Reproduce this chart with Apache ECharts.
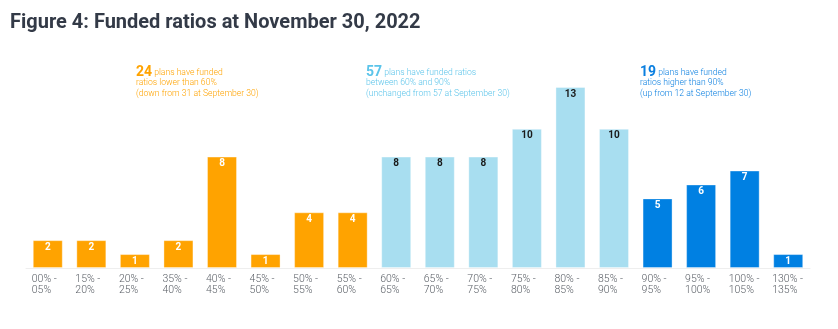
<!DOCTYPE html>
<html><head><meta charset="utf-8">
<script src="https://cdn.jsdelivr.net/npm/echarts@6/dist/echarts.min.js"></script>
<style>html,body{margin:0;padding:0;background:#fff}#c{width:838px;height:329px}</style>
</head><body><div id="c"></div>
<script>
const categories = ['00% -\n05%','15% -\n20%','20% -\n25%','35% -\n40%','40% -\n45%','45% -\n50%','50% -\n55%','55% -\n60%','60% -\n65%','65% -\n70%','70% -\n75%','75% -\n80%','80% -\n85%','85% -\n90%','90% -\n95%','95% -\n100%','100% -\n105%','130% -\n135%'];
const values = [2,2,1,2,8,1,4,4,8,8,8,10,13,10,5,6,7,1];
const groups = ['low','low','low','low','low','low','low','low','mid','mid','mid','mid','mid','mid','high','high','high','high'];
const colors = {low:'#FFA300', mid:'#A8DEF0', high:'#0080E2'};
const labelColors = {low:'#ffffff', mid:'#1a1a1a', high:'#ffffff'};
const textColors = {low:'#FFA300', mid:'#5BC4EA', high:'#0A7FE0'};

const chart = echarts.init(document.getElementById('c'));
function note(x, color, num, lines){
  return {
    left: x, top: 67, padding: 0,
    text: '{n|' + num + '}{t| ' + lines[0] + '}\n{t|' + lines[1] + '}\n{t|' + lines[2] + '}',
    textStyle: {
      fontSize: 8.6, lineHeight: 10.5, color: color, fontFamily: 'Roboto',
      rich: {
        n: {fontSize: 14, fontWeight: 'bold', color: color, fontFamily: 'Roboto', lineHeight: 11},
        t: {fontSize: 8.6, color: color, fontFamily: 'Roboto', fontWeight: 300, lineHeight: 10.5}
      }
    }
  };
}
chart.setOption({
  animation: false,
  title: [
    {left: 10, top: 13, padding: 0, text: 'Figure 4: Funded ratios at November 30, 2022',
     textStyle: {fontSize: 20, fontWeight: 'bold', color: '#333a47', fontFamily: 'Roboto'}},
    note(136, textColors.low, '24', ['plans have funded','ratios lower than 60%','(down from 31 at September 30)']),
    note(366, textColors.mid, '57', ['plans have funded ratios','between 60% and 90%','(unchanged from 57 at September 30)']),
    note(640, textColors.high, '19', ['plans have funded','ratios higher than 90%','(up from 12 at September 30)'])
  ],
  grid: {left: 26, right: 28, top: 87, bottom: 61},
  xAxis: {
    type: 'category', data: categories,
    axisLine: {lineStyle: {color: '#eeeeee'}},
    axisTick: {show: false},
    axisLabel: {
      interval: 0, margin: 6,
      formatter: v => v.split('\n').map(s => '{a|' + s + '}').join('\n'),
      rich: {a: {width: 32, align: 'left', fontSize: 10.5, lineHeight: 11, color: '#5a5f66', fontFamily: 'Roboto', fontWeight: 300}}
    }
  },
  yAxis: {type: 'value', min: 0, max: 13, show: false, splitLine: {show: false}},
  series: [{
    type: 'bar', barWidth: 30,
    data: values.map((v, i) => ({
      value: v,
      itemStyle: {color: colors[groups[i]], borderColor: 'rgba(255,255,255,0.35)', borderWidth: 1},
      label: {color: labelColors[groups[i]]}
    })),
    label: {show: true, position: 'insideTop', distance: 2, fontSize: 10, fontWeight: 'bold', fontFamily: 'Roboto'}
  }]
});
</script></body></html>
